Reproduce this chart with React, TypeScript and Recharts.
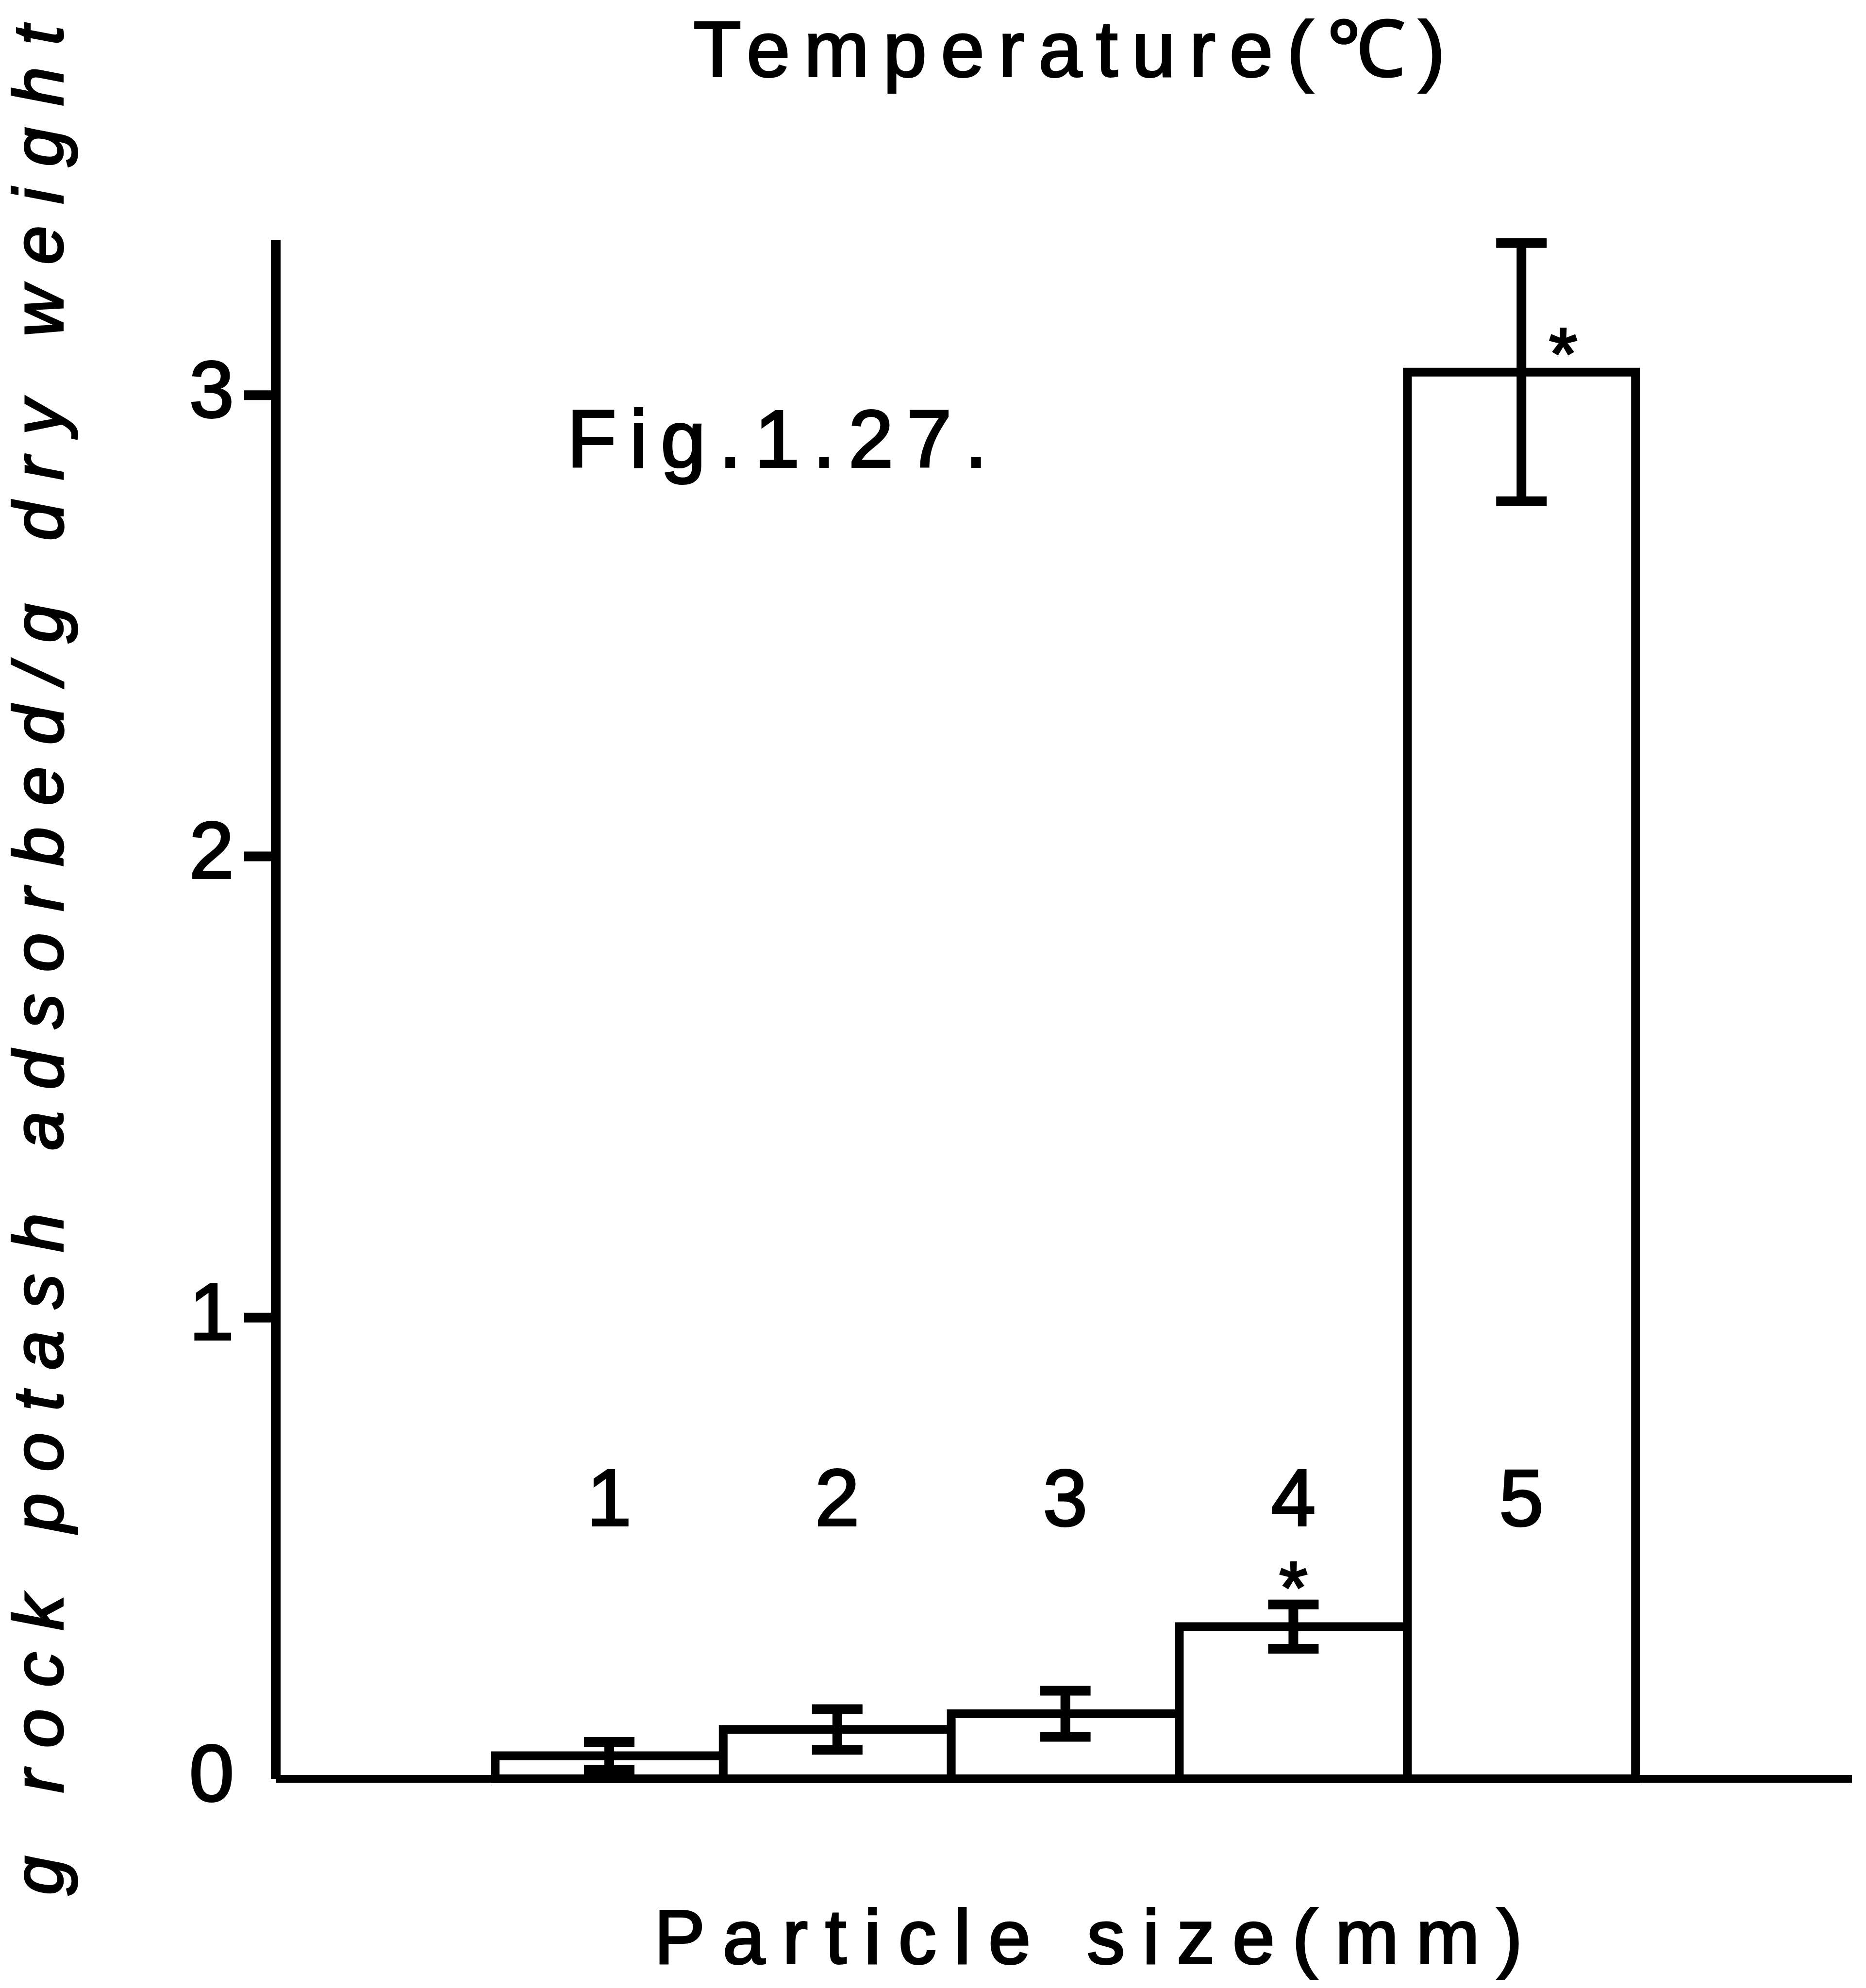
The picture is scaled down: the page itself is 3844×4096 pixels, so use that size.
import React from 'react';
import { BarChart, Bar, XAxis, YAxis, ErrorBar, LabelList } from 'recharts';

// particle size classes and mean adsorption (g/g dry weight) with SD
const sizeClasses = ['1', '2', '3', '4', '5'];
const adsorbed = [0.05, 0.107, 0.141, 0.33, 3.05];
const sd = [0.03, 0.044, 0.05, 0.048, 0.28];
const significant = [false, false, false, true, true];
const yTicks = [0, 1, 2, 3];

const data = sizeClasses.map((size, i) => ({
  size,
  value: adsorbed[i],
  err: sd[i],
}));

const W = 3844;
const H = 4096;
const FONT = '"Liberation Sans", Arial, Helvetica, sans-serif';
const INK = '#000';
// typewritten labels are a bit heavier than the regular face
const TEXT_WEIGHT = { fill: INK, stroke: INK, strokeWidth: 4, fontFamily: FONT };
const STAR_SIZE = 150;

const YTick = ({ x, y, payload }: any) => (
  <g>
    {payload.value !== 0 && (
      <line x1={x - 65} x2={x} y1={y} y2={y} stroke={INK} strokeWidth={20} />
    )}
    <text x={x - 86} y={y + 45} textAnchor="end" fontSize={166} {...TEXT_WEIGHT}>
      {payload.value}
    </text>
  </g>
);

// class numbers sit up inside the plot, above the short bars
const SizeTick = ({ x, y, payload }: any) => (
  <text x={x} y={y - 522} textAnchor="middle" fontSize={165} {...TEXT_WEIGHT}>
    {payload.value}
  </text>
);

const SigMark = (props: any) => {
  const { x, y, width, height, index } = props;
  if (index == null || !significant[index]) return null;
  const perUnit = height / adsorbed[index];
  const cx = x + width / 2;
  let mx = cx;
  let my = y - sd[index] * perUnit - 58;
  if (adsorbed[index] > 1) {
    // tall bar: star goes beside the error stem, just over the bar top
    mx = cx + 86;
    my = y - 61;
  }
  return (
    <text x={mx} y={my + STAR_SIZE * 0.5} textAnchor="middle" fontSize={STAR_SIZE} {...TEXT_WEIGHT}>
      *
    </text>
  );
};

const XTitle = () => (
  <text x={2260} y={4045} textAnchor="middle" fontSize={157} letterSpacing={36} {...TEXT_WEIGHT}>
    Particle size(mm)
  </text>
);

const YTitle = () => (
  <text
    x={129}
    y={1956}
    transform="rotate(-90 129 1956)"
    textAnchor="middle"
    fontSize={144}
    fontStyle="italic"
    letterSpacing={45}
    {...TEXT_WEIGHT}
  >
    g rock potash adsorbed/g dry weight
  </text>
);

export default function App() {
  return (
    <div style={{ position: 'absolute', left: 0, top: 0, width: W, height: H, background: '#fff' }}>
      <BarChart
        width={W}
        height={H}
        data={data}
        margin={{ top: 494, right: 29, bottom: 331, left: 268 }}
        barCategoryGap={0}
      >
        <XAxis
          dataKey="size"
          height={100}
          padding={{ left: 452, right: 446 }}
          axisLine={{ stroke: INK, strokeWidth: 16 }}
          tickLine={false}
          tickSize={0}
          tickMargin={0}
          tick={<SizeTick />}
          label={{ value: 'Particle size(mm)', content: XTitle }}
        />
        <YAxis
          width={300}
          domain={[0, 3.337]}
          ticks={yTicks}
          axisLine={{ stroke: INK, strokeWidth: 20 }}
          tickLine={false}
          tickSize={0}
          tickMargin={0}
          tick={<YTick />}
          label={{ value: 'g rock potash adsorbed/g dry weight', content: YTitle }}
        />
        <Bar dataKey="value" fill="#fff" stroke={INK} strokeWidth={18} isAnimationActive={false}>
          <ErrorBar dataKey="err" width={52} stroke={INK} strokeWidth={20} isAnimationActive={false} />
          <LabelList dataKey="value" content={SigMark} />
        </Bar>
      </BarChart>
      <svg
        width={W}
        height={H}
        style={{ position: 'absolute', left: 0, top: 0, pointerEvents: 'none' }}
      >
        <text x={2217} y={157} textAnchor="middle" fontSize={161} letterSpacing={29} {...TEXT_WEIGHT}>
          Temperature(℃)
        </text>
        <text x={1168} y={962} fontSize={167} letterSpacing={27} {...TEXT_WEIGHT}>
          Fig.1.27.
        </text>
      </svg>
    </div>
  );
}
